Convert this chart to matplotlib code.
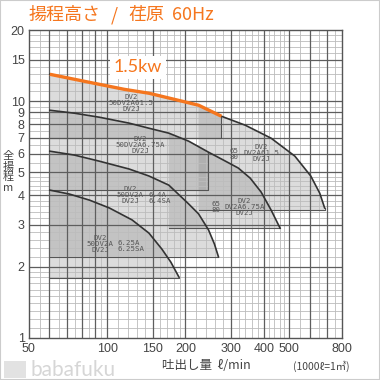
import matplotlib.pyplot as plt
import matplotlib.patches as patches
import numpy as np

plt.rcParams['font.family'] = ['DejaVu Sans']

# pump curves: flow (l/min), head (m)
a_flow = [60.2, 74.9, 93.3, 116.3, 144.8, 180.4, 224.7, 275.1, 339.6, 426.9,
          527.1, 606.7, 656.7, 686]
a_head = [13.0, 12.38, 11.79, 11.23, 10.81, 10.20, 9.62, 8.64, 7.92, 6.98,
          5.86, 4.83, 4.09, 3.54]
b_flow = [60.2, 74.9, 93.3, 121.5, 144.8, 172.6, 205.8, 245.3, 280.0, 319.3,
          354.9, 391.0, 426.9, 462.2]
b_head = [9.16, 8.90, 8.56, 8.08, 7.69, 7.33, 6.78, 6.09, 5.64, 5.22,
          4.73, 4.13, 3.47, 2.91]
c_flow = [60.2, 74.9, 93.3, 121.5, 144.8, 172.6, 205.8, 224.7, 245.3, 258.6,
          267.9]
c_head = [6.15, 5.92, 5.58, 5.17, 4.83, 4.42, 3.68, 3.34, 2.86, 2.49, 2.20]
d_flow = [60.2, 71.7, 85.5, 101.9, 124.7, 144.8, 162.4, 175.7, 188.6]
d_head = [4.21, 4.05, 3.82, 3.54, 3.15, 2.77, 2.37, 2.09, 1.81]

curves = {'A': (a_flow, a_head), 'B': (b_flow, b_head),
          'C': (c_flow, c_head), 'D': (d_flow, d_head)}

# shaded ranges: curve, left flow, right flow, bottom head
boxes = [('A', 60.2, 275.1, 6.98), ('A', 224.7, 686, 3.47),
         ('B', 60.2, 245.3, 4.21), ('B', 172.6, 462.2, 2.91),
         ('C', 60.2, 267.9, 2.2), ('D', 60.2, 188.6, 1.79)]

orange_limit = 275.1   # 1.5kw part of top curve

x_ticks = [50, 100, 150, 200, 300, 400, 500, 800]
y_ticks = [1, 2, 3, 4, 5, 6, 7, 8, 9, 10, 15, 20]

ORANGE = '#f5761e'
TXT = '#555555'

fig = plt.figure(figsize=(3.8, 3.8), dpi=100)
ax = fig.add_axes([0.076, 0.111, 0.824, 0.810])
ax.set_xscale('log')
ax.set_yscale('log')
ax.set_xlim(50, 800)
ax.set_ylim(1, 20)

# log paper grid
x_fine = np.concatenate([np.arange(50, 100, 5), np.arange(100, 200, 10),
                         np.arange(200, 500, 20), np.arange(500, 801, 50)])
x_dark = [60, 70, 80, 90, 100, 150, 200, 300, 400, 500, 600, 700]
y_fine = np.concatenate([np.arange(1, 2, 0.1), np.arange(2, 5, 0.2),
                         np.arange(5, 10, 0.5), np.arange(10, 20.1, 1)])
y_dark = [2, 3, 4, 5, 6, 7, 8, 9, 10, 15]
ax.vlines(x_fine, 1, 20, color='#bcbcbc', lw=0.6, zorder=2)
ax.hlines(y_fine, 50, 800, color='#bcbcbc', lw=0.6, zorder=2)
ax.vlines(x_dark, 1, 20, color='#5e5e5e', lw=0.9, zorder=2)
ax.hlines(y_dark, 50, 800, color='#5e5e5e', lw=0.9, zorder=2)

# shaded operating ranges
for name, left, right, bottom in boxes:
    fl, hd = curves[name]
    pts = [(f, h) for f, h in zip(fl, hd) if left <= f <= right]
    poly = [(left, bottom)] + pts + [(right, bottom)]
    ax.add_patch(patches.Polygon(poly, closed=True, facecolor='#808080',
                                 alpha=0.27, edgecolor='none', zorder=1))
    # right edge and bottom of the range
    ax.plot([pts[-1][0], right, left], [pts[-1][1], bottom, bottom],
            color='#555555', lw=0.8, zorder=2.5)

for name, (fl, hd) in curves.items():
    ax.plot(fl, hd, color='#333333', lw=1.2, zorder=3)

of = [f for f in a_flow if f <= orange_limit]
ax.plot(of, a_head[:len(of)], color=ORANGE, lw=2.4, zorder=4,
        solid_capstyle='butt', solid_joinstyle='round')

# model labels
lab = dict(fontsize=5.3, family='DejaVu Sans Mono', color=TXT, zorder=5,
           linespacing=0.95)
ax.text(123.6, 9.81, 'DV2\n50DV2A61.5\nDV2J', ha='center', va='center', **lab)
ax.text(133.8, 6.52, 'DV2\n50DV2A6.75A\nDV2J', ha='center', va='center', **lab)
ax.text(122.6, 4.01, 'DV2\n50DV2A\nDV2J', ha='center', va='center', **lab)
ax.text(144.7, 3.90, '6.4A\n6.4SA', ha='left', va='center', **lab)
ax.text(94.1, 2.49, 'DV2\n50DV2A\nDV2J', ha='center', va='center', **lab)
ax.text(109.3, 2.44, '6.25A\n6.25SA', ha='left', va='center', **lab)
ax.text(308, 5.98, '65\n80', ha='center', va='center', **lab)
ax.text(391, 6.03, 'DV2\nDV2A61.5\nDV2J', ha='center', va='center', **lab)
ax.text(261, 3.57, '65\n80', ha='center', va='center', **lab)
ax.text(336.7, 3.57, 'DV2\nDV2A6.75A\nDV2J', ha='center', va='center', **lab)

ax.text(131.5, 13.9, '1.5kw', ha='center', va='center', fontsize=13,
        family='Lato', color=ORANGE, zorder=6,
        bbox=dict(facecolor='white', edgecolor='none', pad=2.5))

ax.set_xticks(x_ticks)
ax.set_xticklabels([str(v) for v in x_ticks], family='Liberation Sans')
ax.set_yticks(y_ticks)
ax.set_yticklabels([str(v) for v in y_ticks], family='Liberation Sans')
ax.xaxis.set_minor_locator(plt.NullLocator())
ax.yaxis.set_minor_locator(plt.NullLocator())
ax.tick_params(length=0, labelsize=9, labelcolor='#444444', pad=3.5)
ax.tick_params(axis='y', pad=3)
for s in ax.spines.values():
    s.set_color('#555555')
    s.set_linewidth(1.0)
    s.set_zorder(6)

cjk = ['Noto Sans CJK JP', 'DejaVu Sans']
tkw = dict(fontsize=13, color=ORANGE, family=cjk, va='center')
fig.text(0.074, 0.960, '揚程高さ', ha='left', **tkw)
fig.text(0.300, 0.960, '/', ha='center', **tkw)
fig.text(0.337, 0.960, '荏原', ha='left', **tkw)
fig.text(0.453, 0.960, '60Hz', ha='left', **tkw)
fig.text(0.022, 0.547, '全\n揚\n程\nm', fontsize=8, color='#444444',
         family=cjk, va='center', ha='center', linespacing=1.05)
fig.text(0.426, 0.039, '吐出し量  ℓ/min', fontsize=9, color='#444444',
         family=cjk, va='center', ha='left')
fig.text(0.771, 0.036, '(1000ℓ=1㎥)', fontsize=7.5, color='#444444',
         family=cjk, va='center', ha='left')

# watermark
fig.text(0.08, 0.027, 'babafuku', fontsize=15, color='#d6d6d6',
         family='Lato', va='center', ha='left')
fig.patches.append(patches.Rectangle((0.01, 0.006), 0.058, 0.043,
                   transform=fig.transFigure, facecolor='#e2e2e2',
                   edgecolor='none'))
fig.patches.append(patches.Rectangle((0, 0), 1, 1, transform=fig.transFigure,
                   facecolor='none', edgecolor='#cccccc', lw=1.5))

fig.savefig('out.png', dpi=100)
